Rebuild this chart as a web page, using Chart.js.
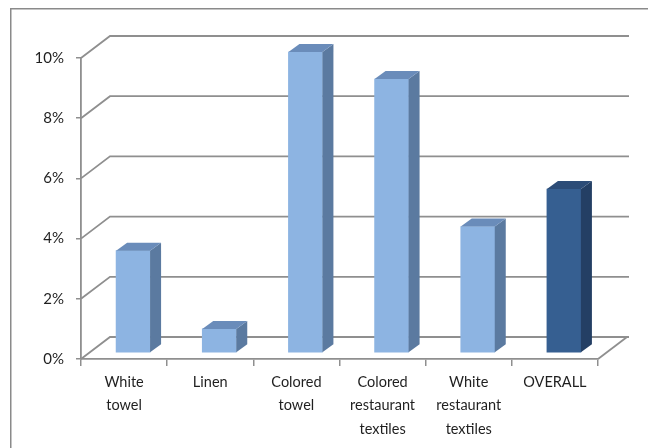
<!DOCTYPE html>
<html>
<head>
<meta charset="utf-8">
<script src="https://cdn.jsdelivr.net/npm/chart.js@4/dist/chart.umd.min.js"></script>
<style>
  html,body{margin:0;padding:0;background:#fff;}
  #wrap{width:648px;height:448px;position:relative;}
</style>
</head>
<body>
<div id="wrap"><canvas id="c" width="648" height="448"></canvas></div>
<script>
const categories = [['White','towel'], ['Linen'], ['Colored','towel'], ['Colored','restaurant','textiles'], ['White','restaurant','textiles'], ['OVERALL']];
const values = [3.4, 0.8, 10.0, 9.1, 4.2, 5.45];
const tickValues = [0, 2, 4, 6, 8, 10];
const frontColors = ['#8DB4E2','#8DB4E2','#8DB4E2','#8DB4E2','#8DB4E2','#365F91'];
const sideColors  = ['#5B7AA0','#5B7AA0','#5B7AA0','#5B7AA0','#5B7AA0','#243F64'];
const topColors   = ['#6A8CBA','#6A8CBA','#6A8CBA','#6A8CBA','#6A8CBA','#2C4C77'];

const WALL_DX = 29, WALL_DY = 22;   // back wall offset
const BAR_DX = 9, BAR_DY = 6;       // bar plane offset
const SIDE_DX = 11, SIDE_DY = 8;    // bar depth
const GRID = '#8f8f8f';

const threeD = {
  id: 'threeD',
  beforeDraw(chart){
    const ctx = chart.ctx;
    ctx.save();
    ctx.strokeStyle = '#8a8a8a'; ctx.lineWidth = 1.5;
    ctx.beginPath(); ctx.moveTo(10.75, 460); ctx.lineTo(10.75, 8.75); ctx.lineTo(660, 8.75); ctx.stroke();
    ctx.restore();
  },
  beforeDatasetsDraw(chart){
    const {ctx, chartArea:a, scales:{y}} = chart;
    ctx.save();
    ctx.strokeStyle = GRID; ctx.lineWidth = 1.8;
    y.ticks.forEach(t => {
      const py = y.getPixelForValue(t.value);
      ctx.beginPath();
      ctx.moveTo(a.left, py);
      ctx.lineTo(a.left + WALL_DX, py - WALL_DY);
      ctx.lineTo(a.right + WALL_DX + 2, py - WALL_DY);
      ctx.stroke();
    });
    const p0 = y.getPixelForValue(0);
    ctx.beginPath(); ctx.moveTo(a.right, p0); ctx.lineTo(a.right + WALL_DX, p0 - WALL_DY); ctx.stroke();
    ctx.restore();
    ctx.save();
    ctx.translate(BAR_DX, -BAR_DY);
  },
  afterDatasetsDraw(chart){
    const ctx = chart.ctx;
    const meta = chart.getDatasetMeta(0);
    meta.data.forEach((bar, i) => {
      const {x, y, base, width} = bar.getProps(['x','y','base','width'], true);
      const l = x - width/2, r = x + width/2;
      ctx.fillStyle = sideColors[i];
      ctx.beginPath();
      ctx.moveTo(r, y); ctx.lineTo(r + SIDE_DX, y - SIDE_DY); ctx.lineTo(r + SIDE_DX, base - SIDE_DY); ctx.lineTo(r, base);
      ctx.closePath(); ctx.fill();
      ctx.fillStyle = topColors[i];
      ctx.beginPath();
      ctx.moveTo(l, y); ctx.lineTo(l + SIDE_DX, y - SIDE_DY); ctx.lineTo(r + SIDE_DX, y - SIDE_DY); ctx.lineTo(r, y);
      ctx.closePath(); ctx.fill();
    });
    ctx.restore();
  }
};

new Chart(document.getElementById('c'), {
  type: 'bar',
  data: {
    labels: categories,
    datasets: [{
      data: values,
      backgroundColor: frontColors,
      borderWidth: 0,
      barThickness: 34,
      clip: false
    }]
  },
  options: {
    responsive: false,
    animation: false,
    events: [],
    layout: { padding: { top: 58, right: 50, left: 0, bottom: 0 } },
    plugins: { legend: { display: false }, tooltip: { enabled: false } },
    scales: {
      x: {
        afterFit: s => { s.height = 89; },
        grid: { drawOnChartArea: false, tickLength: 7, color: GRID, lineWidth: 1.5, offset: true },
        border: { color: GRID, width: 1.8 },
        ticks: { color: '#1f1f1f', font: { family: 'Lato', size: 14.5, lineHeight: 1.6 }, padding: 5, maxRotation: 0, autoSkip: false }
      },
      y: {
        min: 0, max: 10,
        afterFit: s => { s.width = 81; },
        afterBuildTicks: s => { s.ticks = tickValues.map(v => ({ value: v })); },
        grid: { drawOnChartArea: false, tickLength: 5, color: GRID, lineWidth: 1.5 },
        border: { color: GRID, width: 1.8 },
        ticks: { color: '#1f1f1f', font: { family: 'Lato', size: 15 }, padding: 12, callback: v => v + '%' }
      }
    }
  },
  plugins: [threeD]
});
</script>
</body>
</html>
